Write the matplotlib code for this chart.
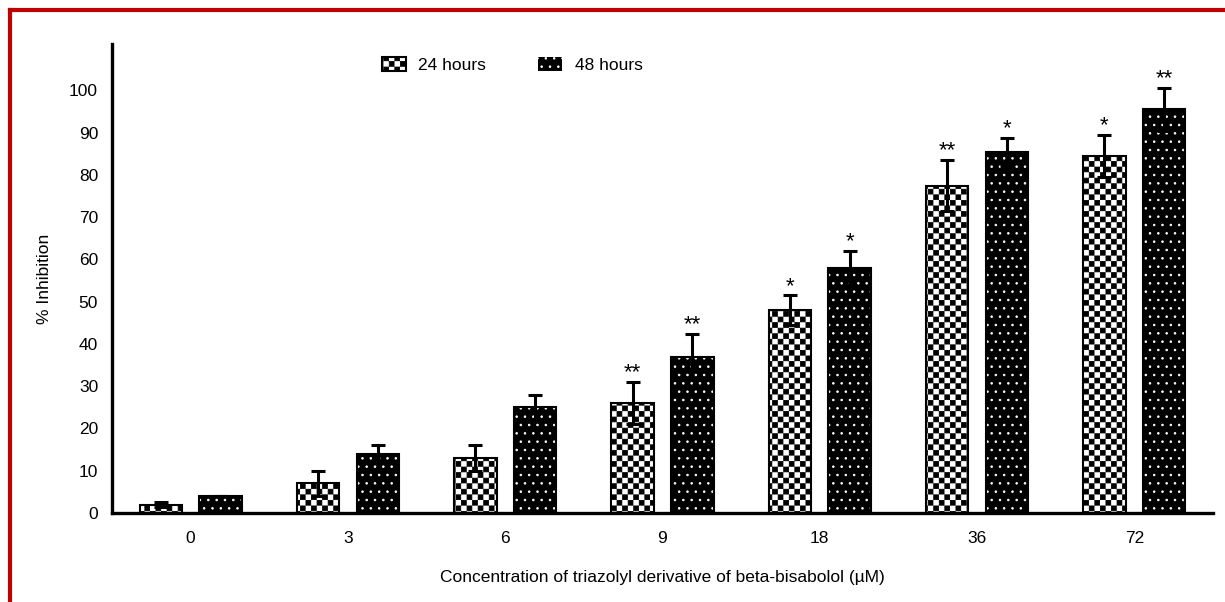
import numpy as np
import matplotlib
matplotlib.use("Agg")
import matplotlib.pyplot as plt
import matplotlib.hatch as mhatch
from matplotlib.lines import Line2D
from matplotlib.patches import Patch
from matplotlib.path import Path

concentrations = ["0", "3", "6", "9", "18", "36", "72"]
inhibition_24h = [2, 7, 13, 26, 48, 77.5, 84.5]
error_24h = [0.5, 3, 3, 5, 3.5, 6, 5]
inhibition_48h = [4, 14, 25, 37, 58, 85.5, 95.5]
error_48h = [0, 2, 3, 5.3, 4, 3.3, 5.2]
stars_24h = ["", "", "", "**", "*", "**", "*"]
stars_48h = ["", "", "", "**", "*", "*", "**"]
series_labels = ["24 hours", "48 hours"]


class CheckerHatch(mhatch.HatchPatternBase):
    # checkerboard fill, takes the place of the 'O' hatch
    def __init__(self, hatch, density):
        self.num_cells = hatch.count("O") * density
        self.num_vertices = ((self.num_cells * self.num_cells + 1) // 2) * 5

    def set_vertices_and_codes(self, vertices, codes):
        n = self.num_cells
        step = 1.0 / n
        side = 0.86 * step
        pad = (step - side) / 2
        square = np.array([[0, 0], [1, 0], [1, 1], [0, 1], [0, 0]]) * side + pad
        parts = []
        for row in range(n):
            for col in range(n):
                if (row + col) % 2 == 0:
                    parts.append(square + [col * step, row * step])
        vertices[:] = np.concatenate(parts)
        codes[:] = np.tile([Path.MOVETO, Path.LINETO, Path.LINETO,
                            Path.LINETO, Path.CLOSEPOLY], len(parts))


mhatch._hatch_types = [CheckerHatch if t is mhatch.LargeCircles else t
                       for t in mhatch._hatch_types]

plt.rcParams["font.family"] = ["Liberation Sans", "DejaVu Sans"]
plt.rcParams["hatch.linewidth"] = 0.6

fig = plt.figure(figsize=(12.25, 6.02), dpi=100)
ax = fig.add_axes([112 / 1225, 89 / 602, 1101 / 1225, 469 / 602])

x = np.arange(len(concentrations))
offset = 0.19
width = 0.27

ax.bar(x - offset, inhibition_24h, width, facecolor="white", edgecolor="black",
       hatch="OOO", linewidth=1.5, zorder=2)
ax.bar(x + offset, inhibition_48h, width, facecolor="black", edgecolor="white",
       hatch="..", linewidth=0, zorder=2)
ax.bar(x + offset, inhibition_48h, width, fill=False, edgecolor="black",
       linewidth=1.5, zorder=2)

ax.errorbar(x - offset, inhibition_24h, yerr=error_24h, fmt="none", ecolor="black",
            elinewidth=2.2, capsize=5, capthick=2.2, zorder=3)
ax.errorbar(x + offset, inhibition_48h, yerr=error_48h, fmt="none", ecolor="black",
            elinewidth=2.2, capsize=5, capthick=2.2, zorder=3)

for xs, vals, errs, marks in [(x - offset, inhibition_24h, error_24h, stars_24h),
                              (x + offset, inhibition_48h, error_48h, stars_48h)]:
    for xi, v, e, m in zip(xs, vals, errs, marks):
        if m:
            ax.annotate(m, (xi, v + e), xytext=(0, -1), textcoords="offset points",
                        ha="center", va="bottom", fontsize=16)

ax.set_xlim(-0.5, len(concentrations) - 0.5)
ax.set_ylim(0, 111)
ax.set_yticks(range(0, 101, 10))
ax.set_xticks(x)
ax.set_xticklabels(concentrations)
ax.tick_params(axis="both", length=0, labelsize=12.5)
ax.tick_params(axis="y", pad=10)
ax.tick_params(axis="x", pad=13)

for side in ["top", "right"]:
    ax.spines[side].set_visible(False)
for side in ["left", "bottom"]:
    ax.spines[side].set_linewidth(2.4)

ax.set_xlabel("Concentration of triazolyl derivative of beta-bisabolol (µM)",
              fontsize=12.5, labelpad=17)
ax.set_ylabel("% Inhibition", fontsize=12.5, labelpad=12)

handles = [Patch(facecolor="white", edgecolor="black", hatch="OOO", linewidth=1.5),
           Patch(facecolor="black", edgecolor="white", hatch="..", linewidth=0)]
ax.legend(handles, series_labels, loc="center left",
          bbox_to_anchor=(373 / 1225, 1 - 65 / 602), bbox_transform=fig.transFigure,
          ncol=2, frameon=False, fontsize=12.5, handlelength=1.4, handleheight=0.9,
          handletextpad=0.7, columnspacing=3.0, borderpad=0)

# red frame around the panel, only top and left edges show
red = "#c00000"
fig.add_artist(Line2D([10 / 1225, 10 / 1225], [0, 1 - 10 / 602], color=red,
                      linewidth=3, transform=fig.transFigure, solid_capstyle="projecting"))
fig.add_artist(Line2D([10 / 1225, 1], [1 - 10 / 602, 1 - 10 / 602], color=red,
                      linewidth=3, transform=fig.transFigure, solid_capstyle="projecting"))

fig.savefig("out.png", dpi=100)
